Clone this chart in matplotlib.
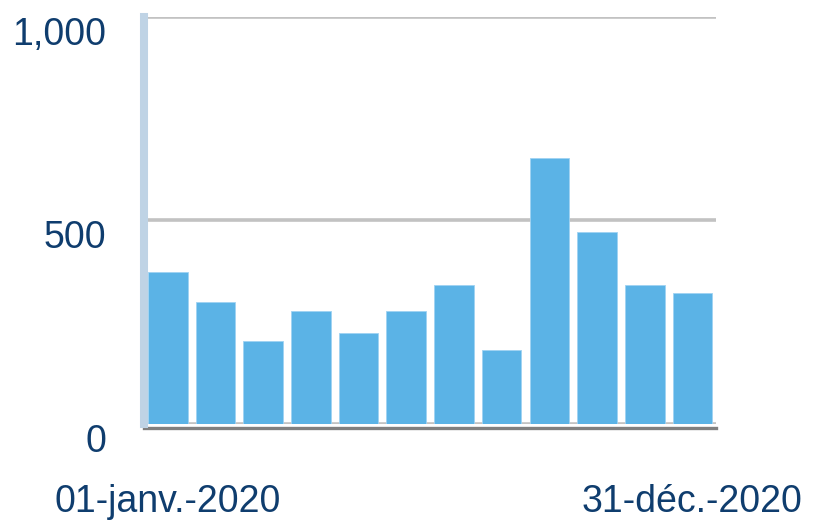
import numpy as np
import matplotlib
matplotlib.use("Agg")
from matplotlib import pyplot as plt

# monthly values
months = ["01-janv.-2020", "févr.", "mars", "avr.", "mai", "juin",
          "juil.", "août", "sept.", "oct.", "nov.", "31-déc.-2020"]
values = [374, 299, 203, 278, 224, 278, 342, 181, 654, 471, 342, 321]
y_ticks = [0, 500, 1000]
y_tick_labels = ["0", "500", "1,000"]
x_tick_pos = [0, 11]
x_tick_labels = [months[0], months[-1]]

bar_color = "#5BB3E6"
text_color = "#0F3D6E"

plt.rcParams["font.family"] = ["Liberation Sans", "DejaVu Sans"]

fig = plt.figure(figsize=(8.13, 5.24), dpi=100)
ax = fig.add_axes([0.177, 0.191, 0.704, 0.7765])

x = np.arange(len(values))
ax.bar(x, values, width=0.83, color=bar_color, edgecolor="#9FD3F2",
       linewidth=0.6, zorder=3)

ax.set_xlim(-0.5, len(values) - 0.5)
ax.set_ylim(0, 1000)

# grid lines
for yv in y_ticks:
    ax.axhline(yv, color="#C2C2C2", linewidth=2.6, zorder=1)

# spines
for side in ["top", "right"]:
    ax.spines[side].set_visible(False)
ax.spines["left"].set_color("#BFD3E5")
ax.spines["left"].set_linewidth(5.8)
ax.spines["left"].set_zorder(4)
ax.spines["bottom"].set_color("#808080")
ax.spines["bottom"].set_linewidth(2.4)
ax.spines["bottom"].set_position(("outward", 3))

ax.set_yticks(y_ticks)
ax.set_yticklabels(y_tick_labels)
ax.set_xticks(x_tick_pos)
ax.set_xticklabels(x_tick_labels)
ax.tick_params(axis="y", length=0, pad=27, labelsize=27, labelcolor=text_color)
ax.tick_params(axis="x", length=0, pad=40, labelsize=27, labelcolor=text_color)
for lbl in ax.get_yticklabels():
    lbl.set_va("top")

fig.savefig("out.png", dpi=100)
